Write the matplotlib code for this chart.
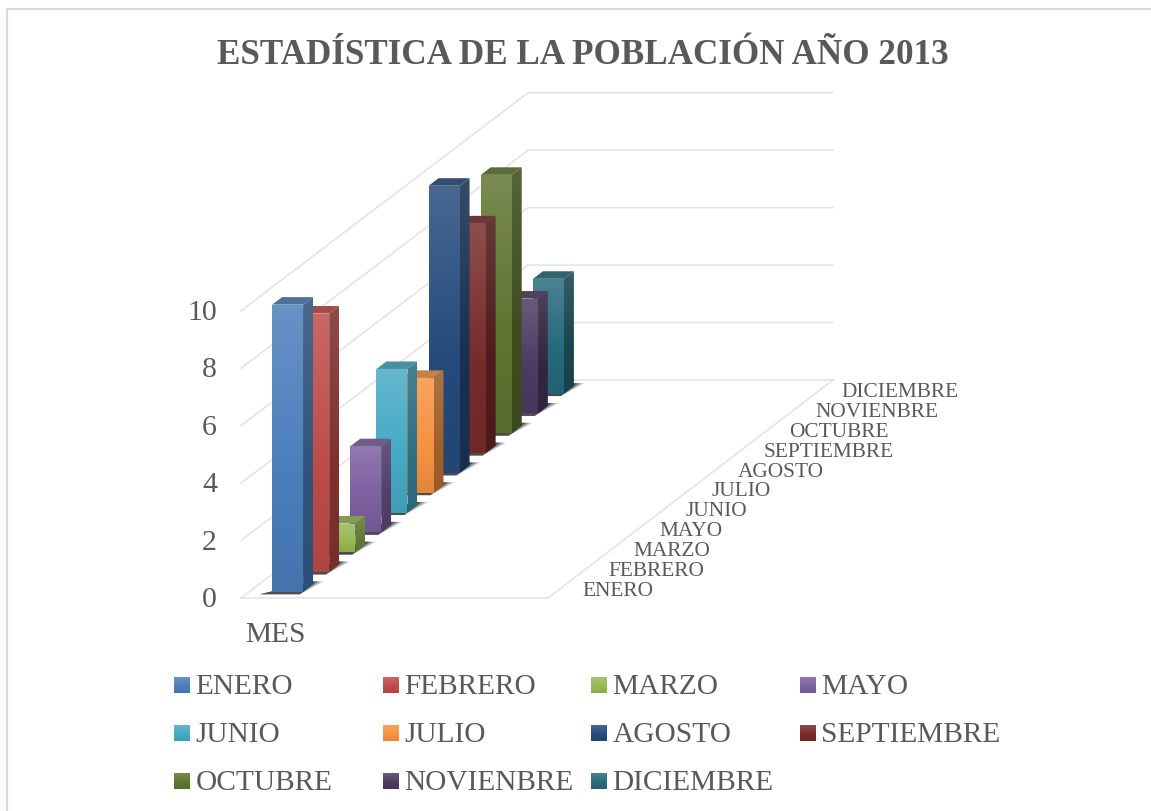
import matplotlib
matplotlib.use("Agg")
import matplotlib.pyplot as plt
from matplotlib.colors import to_rgb
from matplotlib.patches import Polygon
import numpy as np

plt.rcParams['font.family'] = ['Liberation Serif', 'DejaVu Serif']

# === Datos ===
meses = ["ENERO", "FEBRERO", "MARZO", "MAYO", "JUNIO", "JULIO", "AGOSTO",
         "SEPTIEMBRE", "OCTUBRE", "NOVIENBRE", "DICIEMBRE"]
valores = [10, 9, 1, 3, 5, 4, 10, 8, 9, 4, 4]
colores = ["#4a7ebb", "#be4b48", "#98b954", "#7d60a0", "#46aac5", "#f69240",
           "#254b7c", "#772c2a", "#5f7530", "#4d3b62", "#276a7c"]
ticks_y = [0, 2, 4, 6, 8, 10]

# === Geometria del dibujo (pixeles) ===
ORIGEN = (241, 598)
ANCHO_PISO = 307
FONDO = (287, -218)
PX_UNIDAD = 28.72
TEXTO = "#595959"
REJILLA = "#e2e2e2"


# x: pixeles sobre el frente del piso, d: fila (0 a 11), v: valor
def proyectar(x, d, v):
    return (ORIGEN[0] + x + d / len(meses) * FONDO[0],
            ORIGEN[1] + d / len(meses) * FONDO[1] - v * PX_UNIDAD)


def mezclar(color, otro, t):
    return tuple((1 - t) * a + t * b for a, b in zip(to_rgb(color), otro))


def degradado(ax, puntos, arriba, medio, abajo, z):
    pts = np.array(puntos)
    arriba, medio, abajo = to_rgb(arriba), to_rgb(medio), to_rgb(abajo)
    pasos = np.linspace(0, 1, 128)
    tabla = np.array([np.interp(pasos, [0, 0.6, 1], [arriba[c], medio[c], abajo[c]])
                      for c in range(3)]).T
    img = ax.imshow(tabla[:, None, :], aspect='auto', zorder=z, interpolation='bilinear',
                    extent=(pts[:, 0].min(), pts[:, 0].max(), pts[:, 1].max(), pts[:, 1].min()))
    img.set_clip_path(Polygon(puntos, transform=ax.transData))


fig = plt.figure(figsize=(11.51, 8.11), dpi=100)
ax = fig.add_axes([0, 0, 1, 1])
ax.axis('off')

# marco: solo arriba e izquierda
ax.plot([1151, 7, 7], [9, 9, 811], color="#d9d9d9", lw=1.6, zorder=0)

ax.text(582.5, 55, "ESTADÍSTICA DE LA POBLACIÓN AÑO 2013", ha='center', va='center',
        fontsize=25.25, fontweight='bold', color=TEXTO)

# === Paredes y piso ===
for t in ticks_y:
    a = proyectar(0, 0, t)
    b = proyectar(0, len(meses), t)
    c = proyectar(ANCHO_PISO - 2, len(meses), t)
    ax.plot([a[0], b[0], c[0]], [a[1], b[1], c[1]], color=REJILLA, lw=1.1, zorder=1)
    ax.text(217, a[1] + 2, str(t), ha='right', va='center', fontsize=21.5, color=TEXTO)

pa = proyectar(0, 0, 0)
pb = proyectar(ANCHO_PISO, 0, 0)
pc = proyectar(ANCHO_PISO - 2, len(meses), 0)
ax.plot([pa[0], pb[0], pc[0]], [pa[1], pb[1], pc[1]], color=REJILLA, lw=1.1, zorder=1)

ax.text(245.5, 635, "MES", ha='left', va='center', fontsize=21.2, color=TEXTO)

# === Barras (de atras hacia adelante) ===
X_BARRA = 23
ANCHO_BARRA = 31
D0, D1 = 0.31, 0.69
z = 2
negro = (0, 0, 0)
blanco = (1, 1, 1)
for i in range(len(meses) - 1, -1, -1):
    col = colores[i]
    v = valores[i]
    d0 = i + D0
    d1 = i + D1
    xa = X_BARRA
    xb = X_BARRA + ANCHO_BARRA

    # sombra: capas que se van apagando hacia la derecha
    for extra, alfa in [(7, 0.22), (4, 0.30), (1, 0.40), (-1, 0.50)]:
        sombra = [proyectar(xa - 9, d0 - 0.12, 0), proyectar(xb, d0 - 0.12, 0),
                  proyectar(xb + extra, d1 + 0.15, 0), proyectar(xb - 4, d1 + 0.15, 0)]
        ax.add_patch(Polygon(sombra, fc="#2a2a2a", ec='none', alpha=alfa, zorder=z))
    z += 1

    frente = [proyectar(xa, d0, v), proyectar(xb, d0, v),
              proyectar(xb, d0, 0), proyectar(xa, d0, 0)]
    lado = [proyectar(xb, d0, v), proyectar(xb, d1, v),
            proyectar(xb, d1, 0), proyectar(xb, d0, 0)]
    techo = [proyectar(xa, d0, v), proyectar(xa, d1, v),
             proyectar(xb, d1, v), proyectar(xb, d0, v)]

    degradado(ax, lado, mezclar(mezclar(col, blanco, 0.18), negro, 0.30),
              mezclar(col, negro, 0.34), mezclar(col, negro, 0.38), z)
    ax.add_patch(Polygon(techo, fc=mezclar(mezclar(col, blanco, 0.12), negro, 0.2), ec='none', zorder=z + 1))
    degradado(ax, frente, mezclar(col, blanco, 0.16), col, mezclar(col, negro, 0.08), z + 2)
    z += 3

ax.set_xlim(0, 1151)
ax.set_ylim(811, 0)

# === Etiquetas de profundidad ===
for i, m in enumerate(meses):
    ax.text(582 + i * 25.95, 591 + i * FONDO[1] / len(meses), m,
            ha='left', va='center', fontsize=15.4, color=TEXTO)

# === Leyenda ===
col_x = [174, 383, 591, 800]
fila_y = [685, 733, 781]
for i, m in enumerate(meses):
    x = col_x[i % 4]
    y = fila_y[i // 4]
    col = colores[i]
    cuadro = [(x, y - 8), (x + 16, y - 8), (x + 16, y + 8), (x, y + 8)]
    degradado(ax, cuadro, mezclar(col, blanco, 0.16), col, mezclar(col, negro, 0.08), z)
    ax.text(x + 21.5, y + 2, m, ha='left', va='center', fontsize=21.2, color=TEXTO)

ax.set_xlim(0, 1151)
ax.set_ylim(811, 0)

fig.savefig("out.png", dpi=100)
